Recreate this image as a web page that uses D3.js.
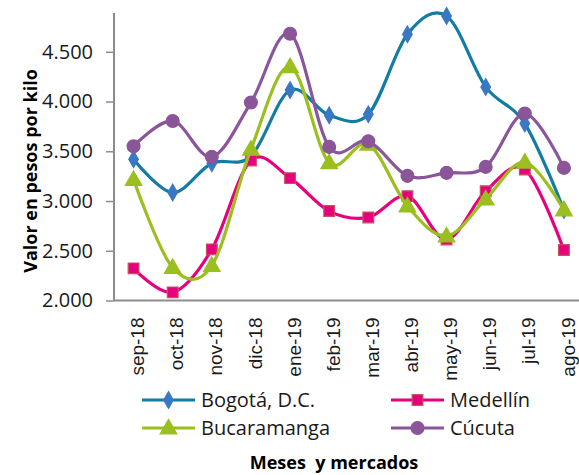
<!DOCTYPE html>
<html>
<head>
<meta charset="utf-8">
<script src="https://cdn.jsdelivr.net/npm/d3@7/dist/d3.min.js"></script>
<style>
  html, body { margin: 0; padding: 0; background: #fff; }
  svg { display: block; font-family: "Open Sans", "Noto Sans", sans-serif; }
</style>
</head>
<body>
<svg id="chart" width="579" height="475"></svg>
<script>
const months = ["sep-18","oct-18","nov-18","dic-18","ene-19","feb-19","mar-19","abr-19","may-19","jun-19","jul-19","ago-19"];
const bogota      = [3420, 3085, 3380, 3450, 4115, 3862, 3872, 4676, 4860, 4147, 3779, 2909];
const medellin    = [2323, 2082, 2514, 3408, 3230, 2899, 2835, 3049, 2614, 3099, 3317, 2507];
const bucaramanga = [3215, 2330, 2350, 3520, 4350, 3384, 3570, 2949, 2648, 3019, 3390, 2910];
const cucuta      = [3551, 3805, 3444, 3990, 4682, 3544, 3601, 3253, 3283, 3343, 3879, 3333];
const yTicks = [2000, 2500, 3000, 3500, 4000, 4500];
const seriesNames = ["Bogotá, D.C.", "Medellín", "Bucaramanga", "Cúcuta"];

const series = [
  {name: seriesNames[0], values: bogota,      line: "#137CA3", fill: "#3B78C3", stroke: "#3B78C3", shape: "diamond"},
  {name: seriesNames[1], values: medellin,    line: "#E6007E", fill: "#E6007E", stroke: "#C85061", shape: "square"},
  {name: seriesNames[2], values: bucaramanga, line: "#9ABF1E", fill: "#9ABF1E", stroke: "#9ABF1E", shape: "triangle"},
  {name: seriesNames[3], values: cucuta,      line: "#8A5599", fill: "#8A5599", stroke: "#8A5599", shape: "circle"}
];

const svg = d3.select("#chart");
const mLeft = 114, mRight = 583.5, mTop = 13, mBottom = 300.5;

const x = d3.scaleBand().domain(months).range([mLeft, mRight]);
const y = d3.scaleLinear().domain([2000, 4890]).range([mBottom, mTop]);
const xc = m => x(m) + x.bandwidth() / 2;

// Y axis
const yAxis = svg.append("g")
  .attr("transform", `translate(${mLeft},0)`)
  .call(d3.axisLeft(y).tickValues(yTicks).tickSize(8).tickPadding(13)
        .tickFormat(d => d3.format(",")(d).replace(",", ".")));
yAxis.select(".domain").attr("d", `M0,${mTop}V${mBottom}`).attr("stroke", "#8c8c8c").attr("stroke-width", 2);
yAxis.selectAll(".tick line").attr("stroke", "#8c8c8c").attr("stroke-width", 1.5);
yAxis.selectAll(".tick text").attr("font-size", 20).attr("fill", "#1a1a1a").attr("font-family", "Open Sans");

// X axis
const xAxis = svg.append("g")
  .attr("transform", `translate(0,${mBottom})`)
  .call(d3.axisBottom(x).tickSize(0).tickPadding(0));
xAxis.select(".domain").attr("d", `M${mLeft},0H${mRight}`).attr("stroke", "#8c8c8c").attr("stroke-width", 2);
xAxis.selectAll(".tick text")
  .attr("font-size", 19)
  .attr("fill", "#1a1a1a")
  .attr("text-anchor", "end")
  .attr("transform", "translate(4,17) rotate(-90)")
  .attr("x", 0).attr("y", 0).attr("dy", "0.35em");

// Lines
const line = d3.line().x((d, i) => xc(months[i])).y(d => y(d)).curve(d3.curveCardinal.tension(0));

const symFill = {
  diamond: d3.symbol().type(d3.symbolDiamond).size(80),
  square: d3.symbol().type(d3.symbolSquare).size(115),
  triangle: d3.symbol().type(d3.symbolTriangle).size(120),
  circle: d3.symbol().type(d3.symbolCircle).size(130)
};

series.forEach(s => {
  const g = svg.append("g");
  g.append("path").attr("d", line(s.values)).attr("fill", "none")
    .attr("stroke", s.line).attr("stroke-width", 3.2);
  g.selectAll("path.m").data(s.values).join("path").attr("class", "m")
    .attr("d", symFill[s.shape])
    .attr("transform", (d, i) => `translate(${xc(months[i])},${y(d) + (s.shape === "triangle" ? 1 : 0)})`)
    .attr("fill", s.fill).attr("stroke", s.stroke).attr("stroke-width", 1.2);
});

// Legend
const legendPos = [
  {lx: 142, ly: 400}, {lx: 391, ly: 400},
  {lx: 142, ly: 428}, {lx: 391, ly: 428}
];
series.forEach((s, i) => {
  const p = legendPos[i];
  const g = svg.append("g").attr("transform", `translate(${p.lx},${p.ly})`);
  g.append("line").attr("x1", 0).attr("x2", 53).attr("y1", 0).attr("y2", 0)
    .attr("stroke", s.line).attr("stroke-width", 3.2);
  g.append("path").attr("d", symFill[s.shape]).attr("transform", `translate(26.5,${s.shape === "triangle" ? 1 : 0})`)
    .attr("fill", s.fill).attr("stroke", s.stroke).attr("stroke-width", 1.2);
  g.append("text").attr("x", 59).attr("y", 0).attr("dy", "0.35em")
    .attr("font-size", 20).attr("fill", "#1a1a1a").text(s.name);
});

// Axis titles
svg.append("text")
  .attr("transform", "translate(37,171) rotate(-90)")
  .attr("text-anchor", "middle")
  .attr("font-size", 18).attr("font-weight", "bold").attr("fill", "#000")
  .text("Valor en pesos por kilo");

svg.append("text")
  .attr("x", 334).attr("y", 469)
  .attr("text-anchor", "middle")
  .attr("font-size", 18).attr("font-weight", "bold").attr("fill", "#000")
  .style("white-space", "pre")
  .text("Meses  y mercados");
</script>
</body>
</html>
